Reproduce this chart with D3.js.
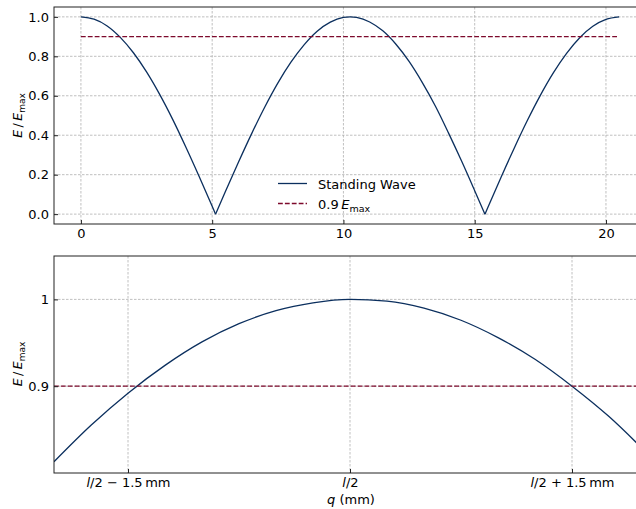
<!DOCTYPE html>
<html>
<head>
<meta charset="utf-8">
<script src="https://cdn.jsdelivr.net/npm/d3@7"></script>
<style>
  body { margin: 0; background: #fff; }
  text { font-family: "DejaVu Sans", sans-serif; }
</style>
</head>
<body>
<svg id="chart"></svg>
<script>
// top panel: standing wave over q (mm)
var waveQ = [0, 0.5, 1, 1.5, 2, 2.5, 3, 3.5, 4, 4.5, 5, 5.13,
  5.5, 6, 6.5, 7, 7.5, 8, 8.5, 9, 9.5, 10, 10.26, 10.5, 11, 11.5, 12, 12.5, 13, 13.5, 14, 14.5, 15, 15.39,
  15.5, 16, 16.5, 17, 17.5, 18, 18.5, 19, 19.5, 20, 20.5];
var waveE = [1.000, 0.988, 0.954, 0.896, 0.818, 0.721, 0.607, 0.479, 0.339, 0.192, 0.040, 0.0,
  0.113, 0.263, 0.407, 0.542, 0.664, 0.770, 0.858, 0.927, 0.973, 0.997, 1.000, 0.997, 0.974, 0.929, 0.861, 0.774, 0.668, 0.548, 0.412, 0.269, 0.119, 0.0,
  0.034, 0.186, 0.333, 0.473, 0.602, 0.717, 0.815, 0.894, 0.952, 0.987, 1.000];
var threshold = 0.9;
var thresholdRange = [0, 20.5];
var topXTicks = [0, 5, 10, 15, 20];
var topYTicks = [0.0, 0.2, 0.4, 0.6, 0.8, 1.0];

// bottom panel: zoom around l/2, offset in mm
var zoomD = [-2, -1.75, -1.5, -1.25, -1, -0.75, -0.5, -0.25, 0, 0.25, 0.5, 0.75, 1, 1.25, 1.5, 1.75, 2];
var zoomE = [0.813, 0.855, 0.892, 0.924, 0.951, 0.972, 0.987, 0.996, 1.000, 0.998, 0.990, 0.976, 0.956, 0.931, 0.900, 0.865, 0.824];
var botXTicks = [-1.5, 0, 1.5];
var botXLabels = [["l", "/2 \u2212 1.5\u2009mm"], ["l", "/2"], ["l", "/2 + 1.5\u2009mm"]];
var botYTicks = [0.9, 1.0];
var botYLabels = ["0.9", "1"];

var width = 636, height = 509;
var waveColor = "#0b2f5e", threshColor = "#7d0a2c", gridColor = "#b0b0b0";

var svg = d3.select("#chart").attr("width", width).attr("height", height);

function panel(box, xDomain, yDomain) {
  var x = d3.scaleLinear().domain(xDomain).range([box.left, box.right]);
  var y = d3.scaleLinear().domain(yDomain).range([box.bottom, box.top]);
  var g = svg.append("g");
  var clipId = "clip" + Math.round(box.top);
  g.append("clipPath").attr("id", clipId).append("rect")
    .attr("x", box.left).attr("y", box.top)
    .attr("width", box.right - box.left).attr("height", box.bottom - box.top);
  return {x: x, y: y, g: g, clip: "url(#" + clipId + ")", box: box};
}

function grid(p, xt, yt) {
  p.g.append("g").selectAll("line").data(xt).enter().append("line")
    .attr("x1", function(d) { return p.x(d); }).attr("x2", function(d) { return p.x(d); })
    .attr("y1", p.box.top).attr("y2", p.box.bottom)
    .attr("stroke", gridColor).attr("stroke-width", 0.8).attr("stroke-dasharray", "2.5,1.5");
  p.g.append("g").selectAll("line").data(yt).enter().append("line")
    .attr("y1", function(d) { return p.y(d); }).attr("y2", function(d) { return p.y(d); })
    .attr("x1", p.box.left).attr("x2", p.box.right)
    .attr("stroke", gridColor).attr("stroke-width", 0.8).attr("stroke-dasharray", "2.5,1.5");
}

function axes(p, xt, yt, yfmt) {
  var xAxis = d3.axisBottom(p.x).tickValues(xt).tickSizeInner(-4).tickSizeOuter(0).tickPadding(5).tickFormat(d3.format("d"));
  var yAxis = d3.axisLeft(p.y).tickValues(yt).tickSizeInner(-4).tickSizeOuter(0).tickPadding(5).tickFormat(yfmt);
  var gx = p.g.append("g").attr("transform", "translate(0," + p.box.bottom + ")").call(xAxis);
  var gy = p.g.append("g").attr("transform", "translate(" + p.box.left + ",0)").call(yAxis);
  [gx, gy].forEach(function(a) {
    a.select(".domain").remove();
    a.selectAll("line").attr("stroke", "#222");
    a.selectAll("text").attr("font-size", "13px").attr("fill", "#000")
      .attr("font-family", "DejaVu Sans, sans-serif");
  });
  return {gx: gx, gy: gy};
}

function frame(p) {
  p.g.append("rect")
    .attr("x", p.box.left).attr("y", p.box.top)
    .attr("width", p.box.right - p.box.left).attr("height", p.box.bottom - p.box.top)
    .attr("fill", "none").attr("stroke", "#222").attr("stroke-width", 1);
}

function yLabel(yc) {
  var t = svg.append("text")
    .attr("transform", "translate(22," + yc + ") rotate(-90)")
    .attr("text-anchor", "middle").attr("font-size", "12.5px");
  t.append("tspan").attr("font-style", "italic").text("E");
  t.append("tspan").text("\u2009/\u2009");
  t.append("tspan").attr("font-style", "italic").text("E");
  t.append("tspan").attr("font-size", "9px").attr("dy", "3").text("max");
}

// ---------- TOP ----------
var topP = panel({left: 54, right: 646, top: 7, bottom: 224}, [-1.025, 21.525], [-0.05, 1.05]);
grid(topP, topXTicks, topYTicks);

var wavePts = waveQ.map(function(q, i) { return {q: q, e: waveE[i]}; });
// split arches at the zeros so the cusps stay sharp
var arches = [[]];
wavePts.forEach(function(d, i) {
  arches[arches.length - 1].push(d);
  if (d.e === 0 && i > 0 && i < wavePts.length - 1) arches.push([d]);
});
var topLine = d3.line().x(function(d) { return topP.x(d.q); }).y(function(d) { return topP.y(d.e); })
  .curve(d3.curveMonotoneX);
topP.g.append("g").attr("clip-path", topP.clip).selectAll("path").data(arches).enter().append("path")
  .attr("d", topLine).attr("fill", "none").attr("stroke", waveColor).attr("stroke-width", 1.3);

topP.g.append("line")
  .attr("x1", topP.x(thresholdRange[0])).attr("x2", topP.x(thresholdRange[1]))
  .attr("y1", topP.y(threshold)).attr("y2", topP.y(threshold))
  .attr("stroke", threshColor).attr("stroke-width", 1.3).attr("stroke-dasharray", "4.8,2.1");

axes(topP, topXTicks, topYTicks, d3.format(".1f"));
frame(topP);
yLabel(115.5);

// legend (no frame)
var leg = svg.append("g");
leg.append("line").attr("x1", 278).attr("x2", 307).attr("y1", 183.5).attr("y2", 183.5)
  .attr("stroke", waveColor).attr("stroke-width", 1.3);
leg.append("text").attr("x", 318).attr("y", 189).attr("font-size", "13px").text("Standing Wave");
leg.append("line").attr("x1", 278).attr("x2", 307).attr("y1", 203.5).attr("y2", 203.5)
  .attr("stroke", threshColor).attr("stroke-width", 1.3).attr("stroke-dasharray", "4.8,2.1");
var lt = leg.append("text").attr("x", 318).attr("y", 208.5).attr("font-size", "13px");
lt.append("tspan").text("0.9\u2009");
lt.append("tspan").attr("font-style", "italic").text("E");
lt.append("tspan").attr("font-size", "9.5px").attr("dy", "3").text("max");

// ---------- BOTTOM ----------
var botP = panel({left: 54, right: 646, top: 256, bottom: 473}, [-2, 2], [0.8, 1.05]);
grid(botP, botXTicks, botYTicks);

var zoomPts = zoomD.map(function(d, i) { return {d: d, e: zoomE[i]}; });
var botLine = d3.line().x(function(d) { return botP.x(d.d); }).y(function(d) { return botP.y(d.e); })
  .curve(d3.curveMonotoneX);
botP.g.append("path").datum(zoomPts).attr("clip-path", botP.clip)
  .attr("d", botLine).attr("fill", "none").attr("stroke", waveColor).attr("stroke-width", 1.3);

botP.g.append("line")
  .attr("x1", botP.box.left).attr("x2", botP.box.right)
  .attr("y1", botP.y(threshold)).attr("y2", botP.y(threshold))
  .attr("stroke", threshColor).attr("stroke-width", 1.3).attr("stroke-dasharray", "4.8,2.1");

var ba = axes(botP, botXTicks, botYTicks, function(d, i) { return botYLabels[i]; });
ba.gx.selectAll(".tick text").each(function(d, i) {
  var t = d3.select(this).text("");
  t.append("tspan").attr("font-style", "italic").text(botXLabels[i][0]);
  t.append("tspan").text(botXLabels[i][1]);
});
frame(botP);
yLabel(364);

var xl = svg.append("text").attr("x", 351).attr("y", 504).attr("text-anchor", "middle").attr("font-size", "13px");
xl.append("tspan").attr("font-style", "italic").text("q");
xl.append("tspan").text(" (mm)");
</script>
</body>
</html>
